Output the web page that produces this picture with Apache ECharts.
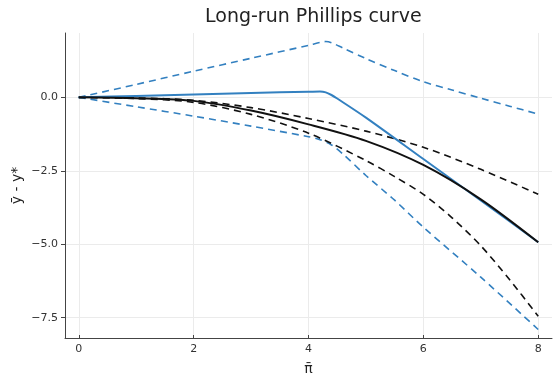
<!DOCTYPE html>
<html>
<head>
<meta charset="utf-8">
<script src="https://cdn.jsdelivr.net/npm/echarts@6/dist/echarts.min.js"></script>
<style>
  html, body { margin: 0; padding: 0; background: #fff; }
  #chart { width: 553px; height: 374px; }
</style>
</head>
<body>
<div id="chart"></div>
<script>
// values: [pi bar, y bar - y*]
const blueSolid = [[0, 0], [1, 0.05], [2, 0.1], [3, 0.15], [4, 0.19], [4.2, 0.2], [4.3, 0.17], [4.4, 0.08], [4.5, -0.04], [5, -0.69], [6, -2.1], [7, -3.51], [8, -4.93]];
const blueUpper = [[0, 0], [1, 0.44], [2, 0.89], [3, 1.33], [4, 1.77], [4.2, 1.87], [4.3, 1.9], [4.4, 1.86], [4.6, 1.68], [5, 1.32], [5.5, 0.91], [6, 0.53], [6.5, 0.25], [7, -0.03], [7.5, -0.3], [8, -0.57]];
const blueLower = [[0, 0], [1, -0.32], [2, -0.64], [3, -0.98], [4, -1.34], [4.2, -1.44], [4.4, -1.62], [4.6, -1.93], [5, -2.66], [5.5, -3.5], [6, -4.42], [7, -6.12], [8, -7.9]];
const blackSolid = [[0, 0], [1, -0.03], [2, -0.12], [3, -0.45], [4, -0.92], [5, -1.48], [6, -2.3], [7, -3.47], [8, -4.93]];
const blackUpper = [[0, 0], [1, -0.02], [2, -0.1], [3, -0.35], [4, -0.72], [5, -1.15], [6, -1.7], [7, -2.45], [8, -3.3]];
const blackLower = [[0, 0], [1, -0.04], [2, -0.17], [3, -0.58], [4, -1.22], [5, -2.15], [5.5, -2.7], [6, -3.3], [6.5, -4.1], [7, -5.05], [7.5, -6.2], [8, -7.45]];

const xTicks = [0, 2, 4, 6, 8];
const yTicks = [-7.5, -5, -2.5, 0];

const BLUE = '#3380c0';
const DARK = '#111111';

const chart = echarts.init(document.getElementById('chart'));

function line(data, color, width, dashed) {
    return {
        type: 'line',
        data: data,
        symbol: 'none',
        smooth: 0.3,
        lineStyle: { color: color, width: width, type: dashed ? [7, 5] : 'solid' },
        z: dashed ? 2 : 3
    };
}

chart.setOption({
    animation: false,
    title: {
        text: 'Long-run Phillips curve',
        left: 200,
        top: 3,
        textStyle: { fontFamily: 'DejaVu Sans', fontSize: 19, fontWeight: 'normal', color: '#222' }
    },
    grid: { left: 65, right: 1, top: 33, bottom: 36, outerBoundsMode: 'none' },
    xAxis: {
        type: 'value',
        min: -0.24,
        max: 8.24,
        name: 'π̄',
        nameLocation: 'middle',
        nameGap: 24,
        nameMoveOverlap: false,
        nameTextStyle: { fontFamily: 'DejaVu Sans', fontSize: 14, color: '#222' },
        axisLine: { onZero: false, lineStyle: { color: '#444', width: 1 } },
        axisTick: { inside: true, length: 3, customValues: xTicks, lineStyle: { color: '#444' } },
        axisLabel: { customValues: xTicks, margin: 6, fontFamily: 'DejaVu Sans', fontSize: 11, color: '#333' },
        splitLine: { show: true, lineStyle: { color: '#ebebeb', width: 1 } }
    },
    yAxis: {
        type: 'value',
        min: -8.19,
        max: 2.19,
        name: 'ȳ - y*',
        nameLocation: 'middle',
        nameGap: 41,
        nameMoveOverlap: false,
        nameRotate: 90,
        nameTextStyle: { fontFamily: 'DejaVu Sans', fontSize: 14, color: '#222' },
        axisLine: { show: true, onZero: false, lineStyle: { color: '#444', width: 1 } },
        axisTick: { show: true, length: 4, customValues: yTicks, lineStyle: { color: '#444' } },
        axisLabel: {
            customValues: yTicks,
            margin: 7,
            fontFamily: 'DejaVu Sans',
            fontSize: 11,
            color: '#333',
            formatter: v => (v < 0 ? '\u2212' : '') + Math.abs(v).toFixed(1)
        },
        splitLine: { show: true, lineStyle: { color: '#ebebeb', width: 1 } }
    },
    series: [
        line(blueUpper, BLUE, 1.6, true),
        line(blueLower, BLUE, 1.6, true),
        line(blackUpper, DARK, 1.6, true),
        line(blackLower, DARK, 1.6, true),
        line(blueSolid, BLUE, 2, false),
        line(blackSolid, DARK, 2, false)
    ]
});
</script>
</body>
</html>
